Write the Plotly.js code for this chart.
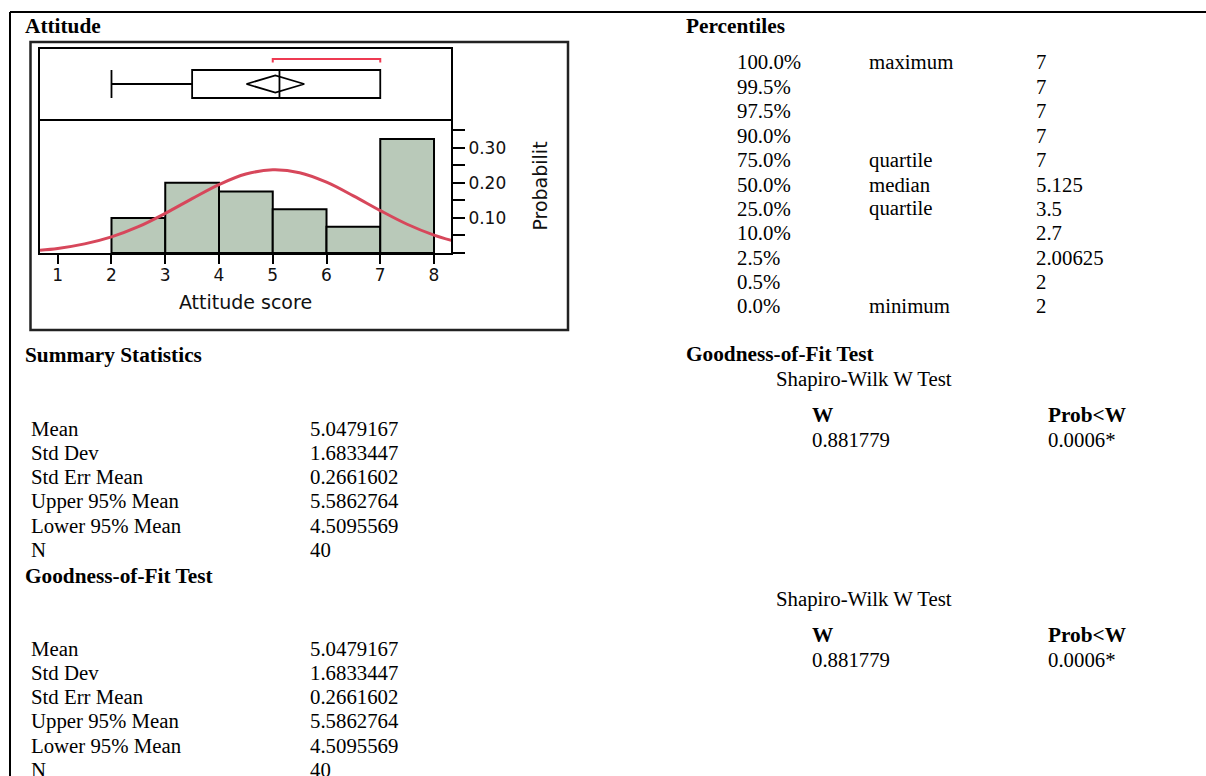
<!DOCTYPE html>
<html>
<head>
<meta charset="utf-8">
<script src="https://cdn.plot.ly/plotly-3.0.1.min.js"></script>
<style>
  html, body { margin: 0; padding: 0; background: #ffffff; }
  #chart { width: 1206px; height: 776px; }
</style>
</head>
<body>
<div id="chart"></div>
<script>
// ---- Distribution of attitude scores ----
const binEdges = [2, 3, 4, 5, 6, 7, 8];
const binProb = [0.100, 0.200, 0.175, 0.125, 0.075, 0.325];

// Fitted normal density along the score axis
const curveX = [0.67, 1, 1.5, 2, 2.5, 3, 3.5, 4, 4.5, 5, 5.5, 6, 6.5, 7, 7.5, 8, 8.32];
const curveY = [0.008, 0.013, 0.026, 0.046, 0.075, 0.113, 0.155, 0.195, 0.225, 0.237,
                0.229, 0.202, 0.163, 0.121, 0.082, 0.051, 0.036];

// Outlier box plot: min, q1, median, q3, max
const boxStats = [2, 3.5, 5.125, 7, 7];
// Mean diamond: lower 95%, mean, upper 95%
const meanCI = [4.5095569, 5.0479167, 5.5862764];
// Shortest half bracket
const shortestHalf = [5, 7];

const scoreTicks = [1, 2, 3, 4, 5, 6, 7, 8];
const probTicks = [0, 0.05, 0.10, 0.15, 0.20, 0.25, 0.30, 0.35];
const probTickText = ['', '', '0.10', '', '0.20', '', '0.30', ''];

// ---- Report tables ----
const pctLevels = ['100.0%', '99.5%', '97.5%', '90.0%', '75.0%', '50.0%', '25.0%', '10.0%', '2.5%', '0.5%', '0.0%'];
const pctNames = ['maximum', '', '', '', 'quartile', 'median', 'quartile', '', '', '', 'minimum'];
const pctValues = ['7', '7', '7', '7', '7', '5.125', '3.5', '2.7', '2.00625', '2', '2'];

const statNames = ['Mean', 'Std Dev', 'Std Err Mean', 'Upper 95% Mean', 'Lower 95% Mean', 'N'];
const statValues = ['5.0479167', '1.6833447', '0.2661602', '5.5862764', '4.5095569', '40'];

const swHeaders = ['W', 'Prob&lt;W'];
const swValues = ['0.881779', '0.0006*'];

// ---- Page geometry helpers (pixel -> paper) ----
const W = 1206, H = 776;
const px = v => v / W;
const py = v => 1 - v / H;

const plotX = [px(40), px(451)];
const histY = [py(253), py(119)];
const boxY = [py(119), py(49)];

const sans = 'DejaVu Sans, Arial, sans-serif';
const serif = 'Liberation Serif, Times New Roman, serif';

const centers = binProb.map((_, i) => (binEdges[i] + binEdges[i + 1]) / 2);
const widths = binProb.map((_, i) => binEdges[i + 1] - binEdges[i]);

const traces = [
  {
    type: 'bar', x: centers, y: binProb, width: widths,
    xaxis: 'x', yaxis: 'y',
    marker: { color: '#b9c9b9', line: { color: '#000000', width: 2 } },
    hoverinfo: 'skip', showlegend: false
  },
  {
    type: 'scatter', mode: 'lines', x: curveX, y: curveY,
    xaxis: 'x', yaxis: 'y',
    line: { color: '#d7475b', width: 3, shape: 'spline', smoothing: 1 },
    hoverinfo: 'skip', showlegend: false
  },
  {
    type: 'box', orientation: 'h', y: [0],
    lowerfence: [boxStats[0]], q1: [boxStats[1]], median: [boxStats[2]],
    q3: [boxStats[3]], upperfence: [boxStats[4]],
    width: 1, whiskerwidth: 1, boxpoints: false,
    fillcolor: 'rgba(0,0,0,0)', line: { color: '#000000', width: 1.8 },
    xaxis: 'x2', yaxis: 'y2', hoverinfo: 'skip', showlegend: false
  },
  {
    type: 'scatter', mode: 'lines',
    x: [meanCI[0], meanCI[1], meanCI[2], meanCI[1], meanCI[0]],
    y: [0, 0.31, 0, -0.31, 0],
    line: { color: '#000000', width: 1.8 },
    xaxis: 'x2', yaxis: 'y2', hoverinfo: 'skip', showlegend: false
  },
  {
    type: 'scatter', mode: 'lines',
    x: [shortestHalf[0], shortestHalf[0], shortestHalf[1], shortestHalf[1]],
    y: [0.77, 0.89, 0.89, 0.77],
    line: { color: '#ee3a52', width: 2 },
    xaxis: 'x2', yaxis: 'y2', hoverinfo: 'skip', showlegend: false
  }
];

const annotations = [];
function txt(x, y, text, opts) {
  opts = opts || {};
  annotations.push({
    xref: 'paper', yref: 'paper', x: px(x - 2), y: py(y),
    xanchor: 'left', yanchor: 'middle',
    text: opts.bold ? '<b>' + text + '</b>' : text,
    showarrow: false,
    font: { family: serif, size: opts.bold ? 21.3 : 20.8, color: '#000000' }
  });
}

// Section headings
txt(25, 26, 'Attitude', { bold: true });
txt(686, 26, 'Percentiles', { bold: true });
txt(25, 355, 'Summary Statistics', { bold: true });
txt(686, 354, 'Goodness-of-Fit Test', { bold: true });
txt(25, 576, 'Goodness-of-Fit Test', { bold: true });

// Percentiles table
pctLevels.forEach((lv, i) => {
  const y = 62 + i * 24.4;
  txt(737, y, lv);
  if (pctNames[i]) txt(869, y, pctNames[i]);
  txt(1036, y, pctValues[i]);
});

// Summary statistics (two blocks)
[428, 648].forEach(y0 => {
  statNames.forEach((nm, i) => {
    const y = y0 + i * 24.3;
    txt(31, y, nm);
    txt(310, y, statValues[i]);
  });
});

// Shapiro-Wilk blocks
[[379, 415, 439], [599, 635, 659]].forEach(rows => {
  txt(776, rows[0], 'Shapiro-Wilk W Test');
  txt(812, rows[1], swHeaders[0], { bold: true });
  txt(1048, rows[1], swHeaders[1], { bold: true });
  txt(812, rows[2], swValues[0]);
  txt(1048, rows[2], swValues[1]);
});

const shapes = [
  // report frame
  { type: 'line', xref: 'paper', yref: 'paper', x0: px(10), x1: px(1206), y0: py(12), y1: py(12),
    line: { color: '#000000', width: 2 } },
  { type: 'line', xref: 'paper', yref: 'paper', x0: px(10), x1: px(10), y0: py(12), y1: py(776),
    line: { color: '#000000', width: 2 } },
  // graph frame
  { type: 'rect', xref: 'paper', yref: 'paper', x0: px(30.5), x1: px(568), y0: py(42), y1: py(330),
    line: { color: '#222222', width: 2.5 } }
];

const axisFont = { family: sans, size: 17, color: '#111111' };

const layout = {
  width: W, height: H,
  margin: { l: 0, r: 0, t: 0, b: 0, pad: 0 },
  paper_bgcolor: '#ffffff', plot_bgcolor: '#ffffff',
  showlegend: false,
  bargap: 0,
  xaxis: {
    domain: plotX, anchor: 'y', range: [0.67, 8.316],
    tickvals: scoreTicks, ticks: 'outside', ticklen: 9, tickwidth: 2, tickcolor: '#000000',
    tickfont: axisFont, ticklabelstandoff: -3, showgrid: false, zeroline: false,
    showline: true, linecolor: '#000000', linewidth: 2, mirror: false,
    title: { text: 'Attitude score', font: { family: sans, size: 19, color: '#111111' }, standoff: 11 },
    automargin: false
  },
  yaxis: {
    domain: histY, anchor: 'x', side: 'right', range: [0, 0.382],
    tickvals: probTicks, ticktext: probTickText,
    ticks: 'outside', ticklen: 12, tickwidth: 2, tickcolor: '#000000',
    tickfont: axisFont, showgrid: false, zeroline: false,
    showline: true, linecolor: '#000000', linewidth: 2, mirror: true,
    title: { text: 'Probabilit', font: { family: sans, size: 19, color: '#111111' }, standoff: 28 },
    automargin: false
  },
  xaxis2: {
    domain: plotX, anchor: 'y2', matches: 'x',
    showticklabels: false, ticks: '', showgrid: false, zeroline: false,
    showline: true, linecolor: '#000000', linewidth: 2, mirror: true
  },
  yaxis2: {
    domain: boxY, anchor: 'x2', range: [-1.25, 1.25],
    showticklabels: false, ticks: '', showgrid: false, zeroline: false,
    showline: true, linecolor: '#000000', linewidth: 2, mirror: true
  },
  annotations: annotations,
  shapes: shapes
};

Plotly.newPlot('chart', traces, layout, { staticPlot: true, displayModeBar: false });
</script>
</body>
</html>
